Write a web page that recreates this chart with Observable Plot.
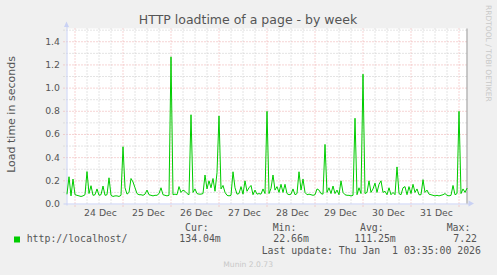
<!DOCTYPE html>
<html><head><meta charset="utf-8">
<script src="https://cdn.jsdelivr.net/npm/d3@7"></script>
<script src="https://cdn.jsdelivr.net/npm/@observablehq/plot@0.6"></script>
<style>
html,body{margin:0;padding:0;background:#f0f0f0;}
svg{display:block;}
</style></head><body><div id="chart"></div>
<script>
// ---- data ----
const title = "HTTP loadtime of a page - by week";
const yLabel = "Load time in seconds";
const seriesName = "http://localhost/";
const startTime = Date.UTC(2025, 11, 23, 20);   // first sample (hourly samples)
const stepMs = 3600 * 1000;
const loadTime = [
  0.087,0.235,0.07,0.215,0.08,0.075,0.07,0.065,0.07,0.08,
  0.28,0.09,0.158,0.075,0.08,0.13,0.075,0.08,0.155,0.075,
  0.08,0.226,0.075,0.065,0.07,0.07,0.065,0.075,0.494,0.14,
  0.085,0.1,0.22,0.19,0.14,0.09,0.08,0.08,0.075,0.085,
  0.12,0.08,0.075,0.07,0.075,0.075,0.09,0.14,0.08,0.075,
  0.07,0.075,1.27,0.08,0.085,0.08,0.15,0.1,0.12,0.11,
  0.09,0.08,0.77,0.1,0.13,0.09,0.085,0.085,0.09,0.25,
  0.13,0.2,0.14,0.22,0.11,0.27,0.76,0.13,0.16,0.1,
  0.075,0.07,0.075,0.278,0.14,0.085,0.09,0.15,0.085,0.2,
  0.11,0.14,0.16,0.08,0.12,0.085,0.09,0.085,0.13,0.09,
  0.8,0.09,0.135,0.25,0.12,0.15,0.1,0.17,0.1,0.17,
  0.09,0.08,0.085,0.13,0.08,0.09,0.278,0.12,0.215,0.1,
  0.08,0.085,0.08,0.075,0.08,0.13,0.12,0.09,0.085,0.514,
  0.1,0.14,0.09,0.155,0.09,0.12,0.08,0.2,0.1,0.08,
  0.075,0.075,0.07,0.075,0.74,0.08,0.14,0.09,1.12,0.09,
  0.1,0.2,0.1,0.13,0.18,0.1,0.17,0.2,0.1,0.11,
  0.08,0.14,0.08,0.1,0.08,0.32,0.09,0.08,0.14,0.15,
  0.08,0.15,0.09,0.17,0.1,0.13,0.08,0.08,0.21,0.1,
  0.12,0.085,0.08,0.075,0.07,0.075,0.07,0.075,0.08,0.09,
  0.075,0.07,0.075,0.16,0.08,0.09,0.8,0.09,0.13,0.1,
  0.135
];
const yTicks = [0, 0.2, 0.4, 0.6, 0.8, 1.0, 1.2, 1.4];
const yMinor = [0.1, 0.3, 0.5, 0.7, 0.9, 1.1, 1.3, 1.5];
const yMax = 1.51;
const xTickLabels = ["24 Dec","25 Dec","26 Dec","27 Dec","28 Dec","29 Dec","30 Dec","31 Dec"];
const legendHeaders = ["Cur:", "Min:", "Avg:", "Max:"];
const legendValues = ["134.04m", "22.66m", "111.25m", "7.22"];
const lastUpdate = "Last update: Thu Jan  1 03:35:00 2026";
const footer = "Munin 2.0.73";
const watermark = "RRDTOOL / TOBI OETIKER";

// ---- derived ----
const data = loadTime.map((v, i) => ({t: new Date(startTime + i * stepMs), v}));
const t0 = new Date(startTime);
const t1 = new Date(startTime + (loadTime.length - 1) * stepMs);
const hour = 3600 * 1000;
const dayLines = d3.utcDay.range(t0, t1);
const minorX = d3.utcHour.every(6).range(t0, t1).filter(d => d.getUTCHours() !== 0);
const xTicks = dayLines.map(d => new Date(+d + 12 * hour));
const labelOf = new Map(xTicks.map((d, i) => [+d, xTickLabels[i]]));
const gx1 = new Date(+t0 - 1.5 * hour), gx2 = new Date(+t1 + 1 * hour);

const gray = "#555";
const minorColor = "#c8c8c8";
const majorColor = "#eda8a8";
const axisColor = "#c9d1f4";

const plot = Plot.plot({
  width: 497, height: 275,
  marginLeft: 66, marginRight: 31, marginTop: 28, marginBottom: 71,
  style: {background: "#f0f0f0", fontFamily: "DejaVu Sans", fontSize: "9.3px", color: gray},
  x: {type: "utc", domain: [t0, t1], range: [66.5, 466.5], label: null},
  y: {domain: [0, yMax], range: [203.5, 28.5], label: null},
  marks: [
    Plot.frame({fill: "white", stroke: null}),
    Plot.ruleY(yMinor, {x1: gx1, x2: gx2, stroke: minorColor, strokeDasharray: "1,2"}),
    Plot.ruleX(minorX, {y1: 0, y2: yMax, stroke: minorColor, strokeDasharray: "1,2"}),
    Plot.ruleY(yTicks.filter(d => d > 0), {x1: gx1, x2: gx2, stroke: majorColor, strokeDasharray: "1,2"}),
    Plot.ruleX(dayLines, {y1: -3 / 115.9, y2: yMax, stroke: majorColor, strokeDasharray: "1,2"}),
    // axes lines
    Plot.ruleY([0], {x1: gx1, x2: new Date(+t1 + 2 * hour), stroke: axisColor}),
    Plot.ruleX([t0], {y1: -2 / 115.9, y2: yMax + 2 / 115.9, stroke: axisColor}),
    Plot.ruleX([t1], {y1: 0, y2: yMax, stroke: "#9a9a9a"}),
    Plot.line(data, {x: "t", y: "v", stroke: "#00cc00", strokeWidth: 1}),
    Plot.axisY(yTicks, {label: null, tickSize: 0, tickPadding: 6.5, tickFormat: d3.format(".1f"), fill: gray, fontSize: 9.3}),
    Plot.axisX(xTicks, {label: null, tickSize: 0, tickPadding: 5, tickFormat: d => labelOf.get(+d), fill: gray, fontSize: 9.3, dx: 1.5})
  ]
});
document.getElementById("chart").appendChild(plot);

// ---- decorations & texts ----
const svg = d3.select(plot);
const xs = plot.scale("x"), ys = plot.scale("y");
const ax = xs.apply(t0), ay = ys.apply(0), topY = ys.apply(yMax);
// arrows
svg.append("path").attr("fill", axisColor)
  .attr("d", `M${ax - 2.5},${topY - 1.5}L${ax + 2.5},${topY - 1.5}L${ax},${topY - 7}Z`);
const rx = xs.apply(t1);
svg.append("path").attr("fill", axisColor)
  .attr("d", `M${rx + 2},${ay - 3}L${rx + 2},${ay + 3}L${rx + 7.5},${ay}Z`);

function txt(s, x, y, opts = {}) {
  const t = svg.append("text").attr("x", x).attr("y", y)
    .attr("fill", opts.fill || gray)
    .attr("font-family", opts.family || "DejaVu Sans")
    .attr("font-size", opts.size || 9.3)
    .attr("text-anchor", opts.anchor || "start")
    .style("white-space", "pre")
    .text(s);
  if (opts.transform) t.attr("transform", opts.transform);
  return t;
}
// title
txt(title, 248, 23.5, {size: 12.5, anchor: "middle"});
// y label
txt(yLabel, 0, 0, {size: 11, anchor: "middle", transform: "translate(15,114.5) rotate(-90)"});
// watermark
txt(watermark, 0, 0, {size: 7.5, fill: "#c8c8c8", transform: "translate(486,5) rotate(90)"});
// legend
const mono = "DejaVu Sans Mono", ms = 9.85;
svg.append("rect").attr("x", 14).attr("y", 236.5).attr("width", 6).attr("height", 6).attr("fill", "#00cc00");
txt(seriesName, 26.7, 242.3, {family: mono, size: ms});
const headerX = [185, 272.7, 360, 446.7];
const valueX = [179.3, 273.3, 354.3, 453.3];
legendHeaders.forEach((h, i) => txt(h, headerX[i], 230.7, {family: mono, size: ms}));
legendValues.forEach((v, i) => txt(v, valueX[i], 242.3, {family: mono, size: ms}));
txt(lastUpdate, 261.7, 254, {family: mono, size: ms});
txt(footer, 223.3, 266.5, {size: 7.6, fill: "#c8c8c8"});
</script>
</body></html>
